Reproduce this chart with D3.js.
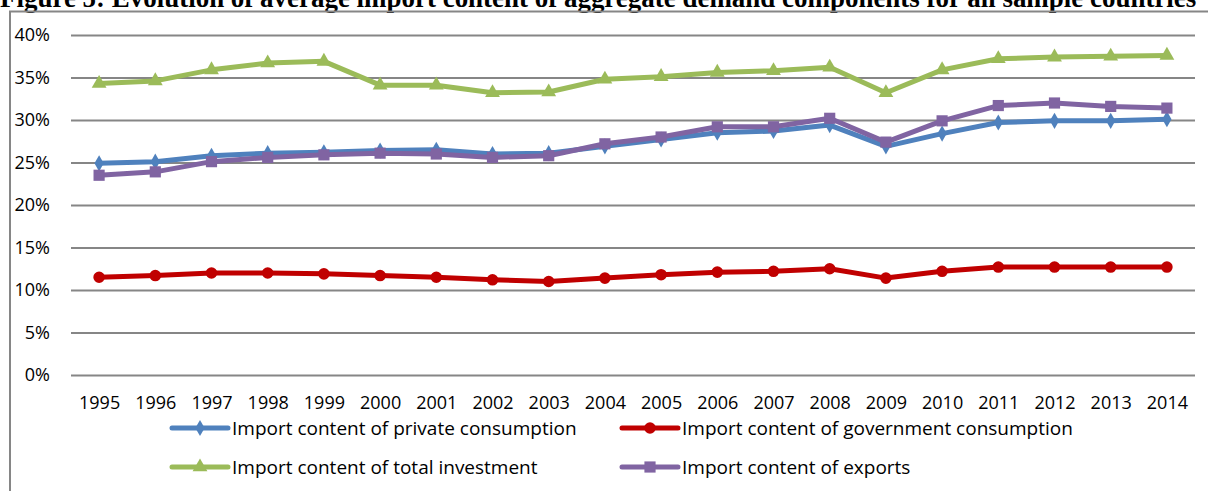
<!DOCTYPE html>
<html>
<head>
<meta charset="utf-8">
<script src="https://cdn.jsdelivr.net/npm/d3@7"></script>
<style>
  body { margin: 0; background: #fff; }
  svg { display: block; }
  text { font-family: "Open Sans", sans-serif; fill: #000; }
</style>
</head>
<body>
<script>
const w = 1208, h = 491

const title = "Figure 5: Evolution of average import content of aggregate demand components for all sample countries"
const years = ["1995", "1996", "1997", "1998", "1999", "2000", "2001", "2002", "2003", "2004",
    "2005", "2006", "2007", "2008", "2009", "2010", "2011", "2012", "2013", "2014"]
const yTicks = [0, 0.05, 0.10, 0.15, 0.20, 0.25, 0.30, 0.35, 0.40]

// values in %
const privateCons = [24.9, 25.1, 25.8, 26.1, 26.2, 26.4, 26.5, 26.0, 26.1, 26.9,
    27.7, 28.5, 28.7, 29.4, 26.9, 28.4, 29.7, 29.9, 29.9, 30.1]
const govCons = [11.5, 11.7, 12.0, 12.0, 11.9, 11.7, 11.5, 11.2, 11.0, 11.4,
    11.8, 12.1, 12.2, 12.5, 11.4, 12.2, 12.7, 12.7, 12.7, 12.7]
const investment = [34.3, 34.6, 35.9, 36.7, 36.9, 34.1, 34.1, 33.2, 33.3, 34.8,
    35.1, 35.6, 35.8, 36.2, 33.2, 35.9, 37.2, 37.4, 37.5, 37.6]
const exportsSeries = [23.5, 23.9, 25.1, 25.6, 25.9, 26.1, 26.0, 25.6, 25.8, 27.2,
    28.0, 29.2, 29.2, 30.2, 27.4, 29.9, 31.7, 32.0, 31.6, 31.4]

const seriesNames = ["Import content of private consumption", "Import content of government consumption",
    "Import content of total investment", "Import content of exports"]

const series = [
    { name: seriesNames[0], values: privateCons, color: "#4F81BD", marker: d3.symbolDiamond, size: 75 },
    { name: seriesNames[1], values: govCons, color: "#C00000", marker: d3.symbolCircle, size: 105 },
    { name: seriesNames[2], values: investment, color: "#9BBB59", marker: d3.symbolTriangle, size: 95 },
    { name: seriesNames[3], values: exportsSeries, color: "#8064A2", marker: d3.symbolSquare, size: 125 }
]

const pLeft = 71, pRight = 1195, pTop = 35, pBottom = 375
const gridColor = "#868686"
const axisFont = "18px", legendFont = "19px"

const svg = d3.select("body").append("svg")
    .attr("width", w)
    .attr("height", h)

// title, mostly cut off at the top (as in the source page)
const t = svg.append("text")
    .attr("x", 0)
    .attr("y", 7)
    .style("font-family", "'Liberation Serif', 'Times New Roman', serif")
    .style("font-weight", "bold")
    .style("font-size", "20px")
    .text(title)
const tw = t.node().getComputedTextLength()
t.style("font-size", (20 * 1197 / tw) + "px")

// chart box (left + top edges)
svg.append("path")
    .attr("d", `M10,${h} L10,11.5 L${w},11.5`)
    .attr("fill", "none")
    .attr("stroke", gridColor)
    .attr("stroke-width", 2)

const x = d3.scalePoint().domain(years).range([pLeft, pRight]).padding(0.5)
const y = d3.scaleLinear().domain([0, 0.4]).range([pBottom, pTop])

const yAxis = svg.append("g")
    .attr("transform", `translate(${pLeft},0)`)
    .call(d3.axisLeft(y).tickValues(yTicks).tickFormat(d3.format(".0%"))
        .tickSize(-(pRight - pLeft)).tickPadding(21))
yAxis.select(".domain").remove()
yAxis.selectAll(".tick line").attr("stroke", gridColor).attr("stroke-width", 2)
yAxis.selectAll("text").style("font-size", axisFont).style("font-family", "'Open Sans', sans-serif").attr("fill", "#000")

const xAxis = svg.append("g")
    .attr("transform", `translate(0,${pBottom})`)
    .call(d3.axisBottom(x).tickSize(0).tickPadding(21))
xAxis.select(".domain").remove()
xAxis.selectAll("text").style("font-size", axisFont).style("font-family", "'Open Sans', sans-serif").attr("fill", "#000")

const line = d3.line()
    .x((d, i) => x(years[i]))
    .y(d => y(d / 100))

series.forEach(s => {
    svg.append("path")
        .attr("d", line(s.values))
        .attr("fill", "none")
        .attr("stroke", s.color)
        .attr("stroke-width", 5)
        .attr("stroke-linejoin", "round")
    svg.append("g").selectAll("path")
        .data(s.values)
        .join("path")
        .attr("d", d3.symbol(s.marker, s.size))
        .attr("transform", (d, i) => `translate(${x(years[i])},${y(d / 100)})`)
        .attr("fill", s.color)
})

// legend, 2x2
const legPos = [[172, 428], [622, 428], [172, 467], [622, 467]]
series.forEach((s, i) => {
    const [lx, ly] = legPos[i]
    const g = svg.append("g").attr("transform", `translate(${lx},${ly})`)
    g.append("line")
        .attr("x1", 0).attr("x2", 56).attr("y1", 0).attr("y2", 0)
        .attr("stroke", s.color).attr("stroke-width", 5).attr("stroke-linecap", "round")
    g.append("path")
        .attr("d", d3.symbol(s.marker, s.size))
        .attr("transform", "translate(28,0)")
        .attr("fill", s.color)
    g.append("text")
        .attr("x", 60)
        .attr("dy", "0.35em")
        .style("font-size", legendFont)
        .text(s.name)
})
</script>
</body>
</html>
